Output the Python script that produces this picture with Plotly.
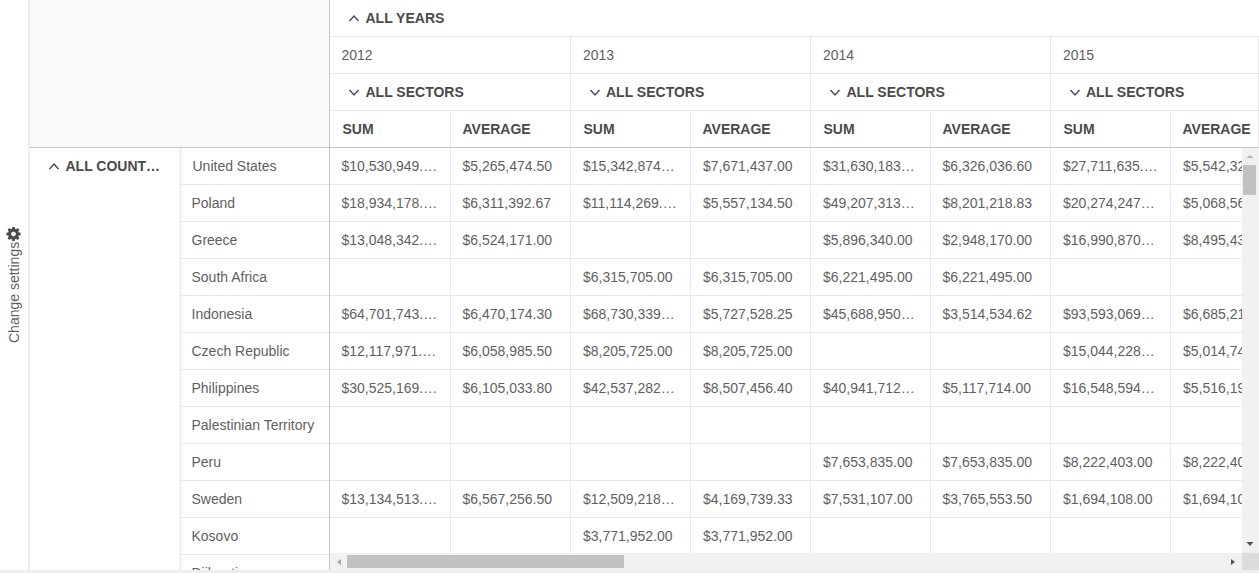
#!/usr/bin/env python3
"""Pivot grid screenshot: country by year with sum and average, drawn on pixel axes."""

import math
import plotly.graph_objects as go

WIDTH, HEIGHT = 1259, 573

countries = ["United States", "Poland", "Greece", "South Africa", "Indonesia", "Czech Republic",
             "Philippines", "Palestinian Territory", "Peru", "Sweden", "Kosovo", "Djibouti"]
years = ["2012", "2013", "2014", "2015"]

sum_2012 = ["$10,530,949.…", "$18,934,178.…", "$13,048,342.…", None, "$64,701,743.…", "$12,117,971.…",
            "$30,525,169.…", None, None, "$13,134,513.…", None, None]
avg_2012 = ["$5,265,474.50", "$6,311,392.67", "$6,524,171.00", None, "$6,470,174.30", "$6,058,985.50",
            "$6,105,033.80", None, None, "$6,567,256.50", None, None]
sum_2013 = ["$15,342,874…", "$11,114,269.…", None, "$6,315,705.00", "$68,730,339…", "$8,205,725.00",
            "$42,537,282…", None, None, "$12,509,218…", "$3,771,952.00", None]
avg_2013 = ["$7,671,437.00", "$5,557,134.50", None, "$6,315,705.00", "$5,727,528.25", "$8,205,725.00",
            "$8,507,456.40", None, None, "$4,169,739.33", "$3,771,952.00", None]
sum_2014 = ["$31,630,183…", "$49,207,313…", "$5,896,340.00", "$6,221,495.00", "$45,688,950…", None,
            "$40,941,712…", None, "$7,653,835.00", "$7,531,107.00", None, None]
avg_2014 = ["$6,326,036.60", "$8,201,218.83", "$2,948,170.00", "$6,221,495.00", "$3,514,534.62", None,
            "$5,117,714.00", None, "$7,653,835.00", "$3,765,553.50", None, None]
sum_2015 = ["$27,711,635.…", "$20,274,247…", "$16,990,870…", None, "$93,593,069…", "$15,044,228…",
            "$16,548,594…", None, "$8,222,403.00", "$1,694,108.00", None, None]
# last column is cut off by the scrollbar, the hidden digits are worked back from the sums
avg_2015 = ["$5,542,327.00", "$5,068,561.75", "$8,495,435.00", None, "$6,685,219.21", "$5,014,742.67",
            "$5,516,198.00", None, "$8,222,403.00", "$1,694,108.00", None, None]

value_columns = [sum_2012, avg_2012, sum_2013, avg_2013, sum_2014, avg_2014, sum_2015, avg_2015]
measures = ["SUM", "AVERAGE"] * 4

# layout of the grid, in page pixels
COL_EDGES = [330, 450.5, 570.5, 690.5, 810.5, 930.5, 1050.5, 1170.5, 1258.5]
VALUE_X = [341.5, 462.5, 583, 703, 823, 942.5, 1063, 1183]
MEASURE_X = [342.5, 462.5, 583.5, 702.5, 823.5, 942.5, 1063.5, 1182.5]
YEAR_X = [341.5, 583, 823, 1063]
SECTOR_X = [365.5, 606, 846.5, 1086]
BODY_TOP = 148
ROW_H = 37

LINE = "#e8e8e8"
HEAD_LINE = "#c6c6c6"
TEXT = "#5f5f5f"
BOLD = "#4a4a4a"
FONT = "Liberation Sans, Arial, sans-serif"


def row_mid(i):
    return BODY_TOP + ROW_H * i + 19


def rect(x0, y0, x1, y1, color, layer="below"):
    return dict(type="rect", x0=x0, y0=y0, x1=x1, y1=y1, fillcolor=color, line_width=0, layer=layer)


def hline(y, x0, x1, color=LINE, width=1):
    return dict(type="line", x0=x0, x1=x1, y0=y, y1=y, line=dict(color=color, width=width), layer="below")


def vline(x, y0, y1, color=LINE, width=1):
    return dict(type="line", x0=x, x1=x, y0=y0, y1=y1, line=dict(color=color, width=width), layer="below")


def chevron(cx, cy, up=True):
    d = -2.5 if up else 2.5
    path = f"M {cx - 4.5} {cy - d} L {cx} {cy + d} L {cx + 4.5} {cy - d}"
    return dict(type="path", path=path, line=dict(color=BOLD, width=1.4), layer="above")


def triangle(points, color="#a3a3a3"):
    path = "M " + " L ".join(f"{x} {y}" for x, y in points) + " Z"
    return dict(type="path", path=path, fillcolor=color, line_width=0, layer="above")


def gear(cx, cy, r_out=7.2, r_in=5.4, hole=2.4, teeth=8):
    pts = []
    step = 2 * math.pi / teeth
    for k in range(teeth):
        a = k * step
        for da, r in [(-0.30, r_in), (-0.17, r_out), (0.17, r_out), (0.30, r_in)]:
            pts.append((cx + r * math.cos(a + da), cy + r * math.sin(a + da)))
    path = "M " + " L ".join(f"{x:.2f} {y:.2f}" for x, y in pts) + " Z"
    circle = [(cx + hole * math.cos(t / 12 * 2 * math.pi), cy + hole * math.sin(t / 12 * 2 * math.pi)) for t in range(12)]
    path += " M " + " L ".join(f"{x:.2f} {y:.2f}" for x, y in circle) + " Z"
    return dict(type="path", path=path, fillcolor=BOLD, line_width=0, fillrule="evenodd", layer="above")


def text_trace(xs, ys, labels, color=TEXT, size=14, bold=False):
    return go.Scatter(
        x=xs, y=ys, text=labels, mode="text", textposition="middle right",
        textfont=dict(family=FONT, size=size, color=color, weight="bold" if bold else "normal"),
        hoverinfo="skip", showlegend=False,
    )


fig = go.Figure()

# body values, one trace per column
for col, values in enumerate(value_columns):
    fig.add_trace(text_trace([VALUE_X[col]] * len(values), [row_mid(i) for i in range(len(values))], values))

# row labels
label_x = [192.5 if name == "United States" else 191.5 for name in countries]
fig.add_trace(text_trace(label_x, [row_mid(i) for i in range(len(countries))], countries))

# header texts
fig.add_trace(text_trace(YEAR_X, [56] * 4, years))
fig.add_trace(text_trace(SECTOR_X, [93] * 4, ["ALL SECTORS"] * 4, BOLD, 14, True))
fig.add_trace(text_trace(MEASURE_X, [130] * 8, measures, BOLD, 14, True))
fig.add_trace(text_trace([365.5], [19], ["ALL YEARS"], BOLD, 14, True))
fig.add_trace(text_trace([65.5], [row_mid(0)], ["ALL COUNT…"], BOLD, 14, True))

shapes = [rect(30, 0, 329, 147, "#fafafa")]

# grid lines
shapes.append(vline(29, 0, 570, "#ededed", 2))
shapes.append(vline(180.5, 148, 570, "#ededed", 2))
for i in range(1, 12):
    shapes.append(hline(BODY_TOP + ROW_H * i - 0.5, 181, WIDTH))
for y in (36.5, 73.5, 110.5):
    shapes.append(hline(y, 330, WIDTH))
for x in COL_EDGES[1:-1]:
    shapes.append(vline(x, 111, 147))
    shapes.append(vline(x, 148, 570))
for x in COL_EDGES[2:-1:2]:
    shapes.append(vline(x, 37, 111))
shapes.append(vline(COL_EDGES[-1], 37, 147))
shapes.append(vline(329.5, 0, 570, HEAD_LINE))
shapes.append(hline(147.5, 30, WIDTH, HEAD_LINE))

# scrollbars sit on top of the values
shapes += [
    rect(330, 553, 1242, 570, "#f1f1f1", "above"),
    rect(347, 555, 624, 568, "#c1c1c1", "above"),
    rect(1242, 148, WIDTH, 553, "#f1f1f1", "above"),
    rect(1243, 165, 1256, 195, "#c1c1c1", "above"),
    rect(1242, 553, WIDTH, 570, "#dcdcdc", "above"),
    rect(0, 570, WIDTH, HEIGHT, "#eeeeee", "above"),
    triangle([(1246.5, 158), (1250, 155), (1253.5, 158)], "#b0b0b0"),
    triangle([(1246.5, 542), (1250, 546), (1253.5, 542)], "#505050"),
    triangle([(341, 559), (337, 562), (341, 565)], "#a3a3a3"),
    triangle([(1231, 559), (1235, 562), (1231, 565)], "#505050"),
]

# expand icons
shapes += [chevron(354, 18.5, True), chevron(54, 166.5, True)]
shapes += [chevron(x, 92.5, False) for x in (354, 595, 835, 1075)]
shapes.append(gear(13.5, 234))

fig.update_layout(
    width=WIDTH, height=HEIGHT,
    margin=dict(l=0, r=0, t=0, b=0),
    paper_bgcolor="white", plot_bgcolor="white",
    xaxis=dict(range=[0, WIDTH], visible=False, fixedrange=True),
    yaxis=dict(range=[HEIGHT, 0], visible=False, fixedrange=True),
    shapes=shapes,
    annotations=[dict(
        x=14, y=293, xref="x", yref="y", text="Change settings", textangle=-90, showarrow=False,
        font=dict(family=FONT, size=14, color=TEXT),
    )],
)

fig.write_html(
    "out.html",
    config={"displayModeBar": False, "responsive": False},
    post_script="document.body.style.margin='0';document.body.style.overflow='hidden';",
)
